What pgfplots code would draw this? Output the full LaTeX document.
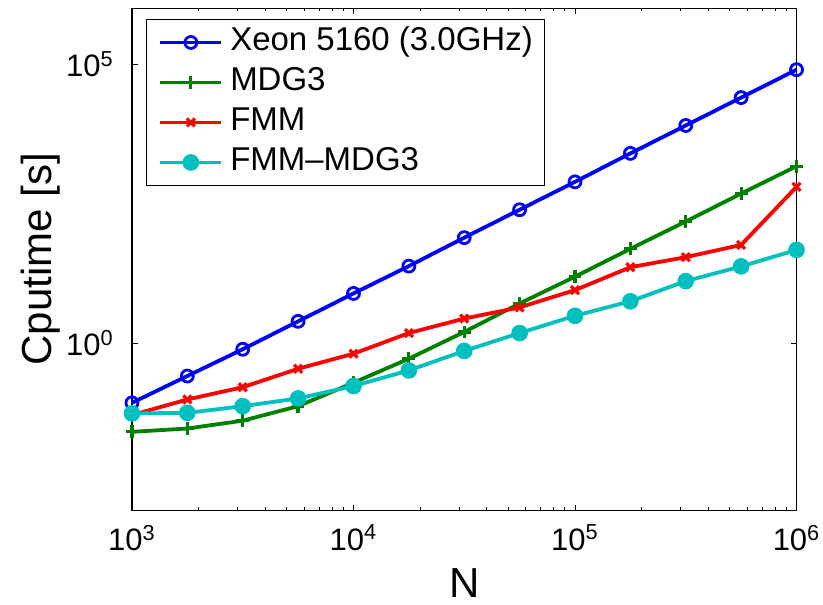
\documentclass[border=0pt]{standalone}
\usepackage{pgfplots}
\pgfplotsset{compat=1.18}
\usepackage{fontspec}
\setmainfont{Liberation Sans}
\definecolor{mblue}{rgb}{0,0,1}
\definecolor{mgreen}{rgb}{0,0.5,0}
\definecolor{mred}{rgb}{1,0,0}
\definecolor{mcyan}{rgb}{0,0.75,0.75}
\begin{document}
\begin{tikzpicture}
\begin{axis}[
  name=ax,
  scale only axis,
  width=332.4pt, height=251.2pt,
  xmode=log, ymode=log,
  xmin=1e3, xmax=1e6, ymin=1e-3, ymax=1e6,
  xtick={1e3,1e4,1e5,1e6},
  xticklabels={10\textsuperscript{3},10\textsuperscript{4},10\textsuperscript{5},10\textsuperscript{6}},
  ytick={1,1e5},
  yticklabels={10\textsuperscript{0},10\textsuperscript{5}},
  yminorticks=false,
  tick align=inside,
  xtick pos=both, ytick pos=both,
  major tick length=3pt, minor tick length=1.6pt,
  axis line style={line width=0.6pt},
  every tick/.style={black, line width=0.5pt},
  tick label style={font=\fontsize{15.5}{18}\selectfont},
  xticklabel style={inner sep=0pt, yshift=-7pt},
  yticklabel style={inner sep=0pt, xshift=-9pt},
  xlabel={N},
  ylabel={Cputime [s]},
  label style={font=\fontsize{21}{24}\selectfont},
  xlabel style={at={(axis description cs:0.5,-0.114)}, anchor=north, inner sep=0pt},
  ylabel style={at={(axis description cs:-0.108,0.5)}, anchor=south, inner sep=0pt},
  clip=false,
  legend cell align=left,
  legend style={at={(0.0211,0.9795)}, anchor=north west,
    font=\fontsize{16.5}{18}\selectfont,
    draw=black, line width=0.5pt,
    inner xsep=6pt, inner ysep=4.2pt,
    row sep=5pt, column sep=3.5pt,
    nodes={inner sep=0pt, text height=11.5pt, text depth=3.5pt}},
  legend image code/.code={\draw[mark repeat=2,mark phase=2] plot coordinates {(0pt,0pt)(15.25pt,0pt)(30.5pt,0pt)};},
]
\addplot[mblue, line width=1.9pt, mark=o, mark size=3pt, mark options={line width=1.4pt}] coordinates {
(1000,0.0851) (1778,0.257) (3162,0.776) (5623,2.455) (10000,7.76) (17783,24.0) (31623,77.6) (56234,245.5) (100000,776) (177828,2512) (316228,7943) (562341,25119) (1000000,79433)};
\addlegendentry{Xeon 5160 (3.0GHz)}
\addplot[mgreen, line width=1.9pt, mark=+, mark size=3.2pt, mark options={line width=1.6pt}] coordinates {
(1000,0.0257) (1778,0.0295) (3162,0.0407) (5623,0.0741) (10000,0.195) (17783,0.525) (31623,1.585) (56234,5.13) (100000,15.5) (177828,49.0) (316228,151) (562341,479) (1000000,1479)};
\addlegendentry{MDG3}
\addplot[mred, line width=1.9pt, mark=x, mark size=2.8pt, mark options={line width=1.6pt}] coordinates {
(1000,0.0513) (1778,0.0977) (3162,0.162) (5623,0.347) (10000,0.646) (17783,1.514) (31623,2.754) (56234,4.365) (100000,8.91) (177828,22.9) (316228,34.7) (562341,57.5) (1000000,631)};
\addlegendentry{FMM}
\addplot[mcyan, line width=1.9pt, mark=*, mark size=3.2pt, mark options={fill=mcyan, draw=mcyan}] coordinates {
(1000,0.055) (1778,0.0562) (3162,0.0741) (5623,0.102) (10000,0.170) (17783,0.324) (31623,0.724) (56234,1.514) (100000,3.09) (177828,5.62) (316228,12.9) (562341,23.7) (1000000,46.8)};
\addlegendentry{FMM--MDG3}
\end{axis}
\path ([shift={(-66pt,-47.15pt)}]ax.south west) rectangle ([shift={(13.25pt,4.15pt)}]ax.north east);
\end{tikzpicture}
\end{document}
